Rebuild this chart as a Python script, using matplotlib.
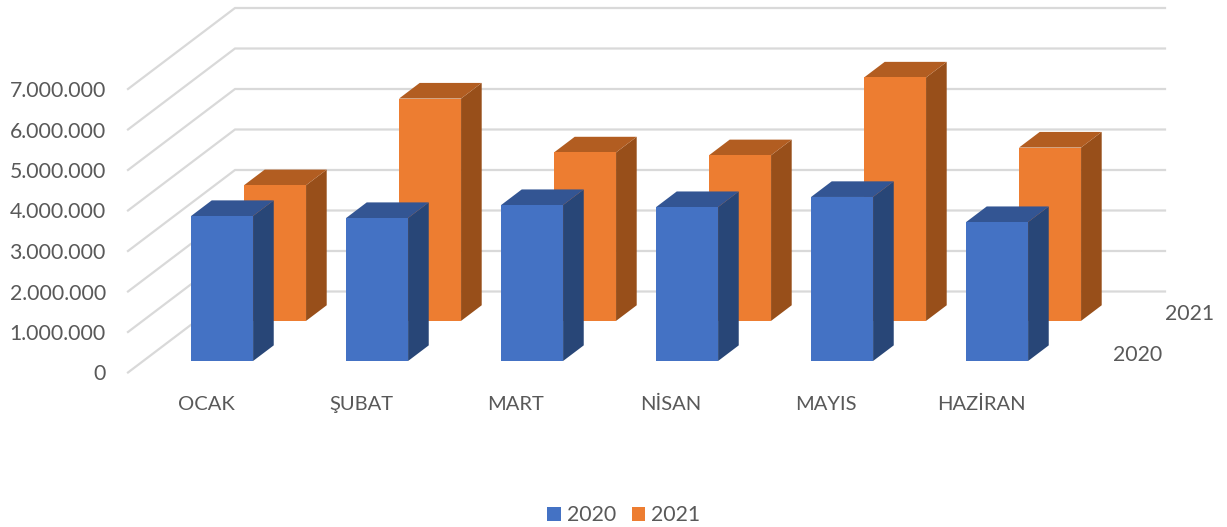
import matplotlib
matplotlib.use("Agg")
import matplotlib.pyplot as plt
from matplotlib.patches import Patch
from matplotlib.ticker import FuncFormatter

categories = ["OCAK", "ŞUBAT", "MART", "NİSAN", "MAYIS", "HAZİRAN"]
series_names = ["2020", "2021"]
values_2020 = [3580000, 3530000, 3850000, 3800000, 4050000, 3430000]
values_2021 = [3350000, 5490000, 4160000, 4090000, 6010000, 4280000]
y_ticks = [0, 1000000, 2000000, 3000000, 4000000, 5000000, 6000000, 7000000]

W, H = 1227, 527
X0, Y0 = 128, 372.5          # pixel position of the front-left zero corner
PX_CAT, PX_UNIT = 155, 40.5e-6
WALL_DX, WALL_DY = 107, 81   # oblique offset of the back wall, px
TEXT = "#595959"
GRID = "#D9D9D9"
plt.rcParams["font.family"] = ["Lato", "DejaVu Sans"]
FS = 15.3

fig = plt.figure(figsize=(W / 100, H / 100), dpi=100)
ax = fig.add_axes([X0 / W, (H - Y0) / H, (W - X0) / W, Y0 / H])
ax.set_xlim(0, (W - X0) / PX_CAT)
ax.set_ylim(0, Y0 / PX_UNIT)
for s in ax.spines.values():
    s.set_visible(False)
ax.patch.set_alpha(0)


def proj(c, v, d):
    """Oblique projection: category c, value v, depth d (0 front, 1 back wall)."""
    return c + d * WALL_DX / PX_CAT, v + d * WALL_DY / PX_UNIT


# gridlines: side wall diagonal plus back wall
n = len(categories)
for t in y_ticks:
    pts = [proj(0, t, 0), proj(0, t, 1), proj(n, t, 1)]
    ax.plot([p[0] for p in pts], [p[1] for p in pts], color=GRID, lw=1.6,
            clip_on=False, zorder=1, solid_joinstyle="miter")

BAR_W = 0.40
BAR_L = 0.309
styles = {
    "2021": dict(d0=0.637, d1=0.83, front="#ED7D31", side="#984F1A", top="#B25D21"),
    "2020": dict(d0=0.142, d1=0.335, front="#4472C4", side="#284677", top="#335593"),
}
data = {"2020": values_2020, "2021": values_2021}

z = 2
for name in ["2021", "2020"]:
    st = styles[name]
    vals = data[name]
    for i, v in enumerate(vals):
        c = i + BAR_L
        x0, base = proj(c, 0, st["d0"])
        ax.bar(x0, v, width=BAR_W, bottom=base, align="edge", color=st["front"],
               linewidth=0, zorder=z + 1)
        right = c + BAR_W
        side = [proj(right, 0, st["d0"]), proj(right, 0, st["d1"]),
                proj(right, v, st["d1"]), proj(right, v, st["d0"])]
        top = [proj(c, v, st["d0"]), proj(right, v, st["d0"]),
               proj(right, v, st["d1"]), proj(c, v, st["d1"])]
        ax.fill(*zip(*side), color=st["side"], lw=0, zorder=z)
        ax.fill(*zip(*top), color=st["top"], lw=0, zorder=z)
    z += 2

# value axis
ax.set_yticks(y_ticks)
ax.yaxis.set_major_formatter(FuncFormatter(lambda v, _: f"{int(v):,}".replace(",", ".")))
ax.tick_params(axis="y", length=0, pad=16, labelsize=FS, labelcolor=TEXT)

# category axis
ax.set_xticks([i + 0.503 for i in range(n)])
ax.set_xticklabels(categories)
ax.tick_params(axis="x", length=0, pad=17, labelsize=14.5, labelcolor=TEXT)

# depth axis labels
for name, d, off in [("2020", 0.24, 54), ("2021", 0.74, 52)]:
    px, py = proj(n, 0, d)
    ax.annotate(name, xy=(px, py), xytext=(off * 0.72, -1.5 * 0.72),
                textcoords="offset points", ha="center", va="center",
                color=TEXT, fontsize=FS, annotation_clip=False)

handles = [Patch(color=styles[s]["front"], lw=0, label=s) for s in series_names]
fig.legend(handles=handles, loc="center", bbox_to_anchor=(624 / W, 1 - 515 / H),
           ncol=2, frameon=False, fontsize=FS, labelcolor=TEXT,
           handlelength=0.64, handleheight=0.64, handletextpad=0.3, columnspacing=0.7,
           borderpad=0, borderaxespad=0)

fig.savefig("out.png", dpi=100)
